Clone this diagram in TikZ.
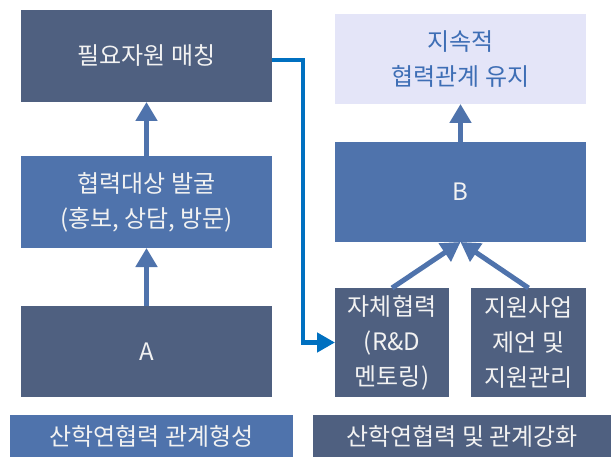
\documentclass[tikz,border=0pt]{standalone}
\usepackage{fontspec}
\setmainfont{Noto Sans CJK KR}
\usetikzlibrary{arrows.meta}
\definecolor{darkbox}{RGB}{79,96,128}
\definecolor{midbox}{RGB}{79,115,172}
\definecolor{lavbox}{RGB}{228,229,248}
\definecolor{lavtext}{RGB}{62,110,181}
\definecolor{conn}{RGB}{0,112,192}
\definecolor{boxtext}{RGB}{242,242,242}
\begin{document}
\begin{tikzpicture}[x=1pt,y=-1pt,
  box/.style={draw=none, inner sep=0pt, outer sep=0pt, align=center,
    text=boxtext, font=\fontsize{24}{35}\selectfont, anchor=north west},
  darkfill/.style={box, fill=darkbox},
  midfill/.style={box, fill=midbox},
  lavfill/.style={box, fill=lavbox, text=lavtext},
  fatarrow/.style={draw=midbox, line width=5pt, -{Triangle[width=21pt,length=19pt]}},
  elbowarrow/.style={draw=conn, line width=4.5pt, -{Triangle[width=19pt,length=18pt]}}]
\useasboundingbox (0,0) rectangle (615,457);
\fill[white] (0,0) rectangle (615,457);
% left column
\node[darkfill, minimum width=251pt, minimum height=92pt] (need) at (21,10) {필요자원 매칭};
\node[midfill, minimum width=251pt, minimum height=92pt] (find) at (21,156) {협력대상 발굴\\(홍보, 상담, 방문)};
\node[darkfill, minimum width=251pt, minimum height=91pt] (A) at (21,306) {A};
% right column
\node[lavfill, minimum width=251pt, minimum height=90pt] (keep) at (335,14) {지속적\\협력관계 유지};
\node[midfill, minimum width=251pt, minimum height=100pt] (B) at (335,142) {B};
\node[darkfill, minimum width=114pt, minimum height=109pt] (self) at (335,288) {자체협력\\(R\&D\\멘토링)};
\node[darkfill, minimum width=115pt, minimum height=109pt] (supp) at (471,288) {지원사업\\제언 및\\지원관리};
% bottom labels
\node[midfill, minimum width=283pt, minimum height=42pt] (lab1) at (10,415) {산학연협력 관계형성};
\node[darkfill, minimum width=298pt, minimum height=42pt] (lab2) at (313,415) {산학연협력 및 관계강화};
% arrows
\draw[fatarrow] (A.north) -- (find.south);
\draw[fatarrow] (find.north) -- (need.south);
\draw[fatarrow] (B.north) -- (keep.south);
\draw[fatarrow] (self.north) -- (B.south);
\draw[fatarrow] (supp.north) -- (B.south);
\draw[elbowarrow] ([yshift=-4pt]need.east) -- ++(31,0) |- (self.west);
\end{tikzpicture}
\end{document}
